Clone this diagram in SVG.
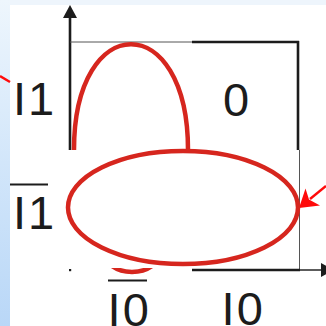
<svg xmlns="http://www.w3.org/2000/svg" width="326" height="326" viewBox="0 0 326 326">
  <defs>
    <linearGradient id="side" x1="0" y1="0" x2="0" y2="1">
      <stop offset="0" stop-color="#eef6fd"/>
      <stop offset="0.5" stop-color="#d2e6fa"/>
      <stop offset="1" stop-color="#b9d7f7"/>
    </linearGradient>
    <clipPath id="lowClip"><rect x="0" y="268" width="326" height="58"/></clipPath>
    <style>
      .lbl { font-family: "Liberation Sans", Arial, sans-serif; font-size: 47px; fill: #1c1c1c; letter-spacing: 2px; }
      .axis { stroke: #1c1c1c; stroke-width: 2.6; fill: none; }
      .thin { stroke: #555; stroke-width: 1; fill: none; }
      .loop { stroke: #d6261e; stroke-width: 4.5; fill: none; }
      .bar { stroke: #1c1c1c; stroke-width: 2; }
      .pointer { stroke: #ff0a0a; stroke-width: 2.4; fill: none; }
    </style>
  </defs>

  <!-- background -->
  <rect x="0" y="0" width="326" height="326" fill="#ffffff"/>
  <rect x="0" y="0" width="326" height="5" fill="#eef5fc"/>
  <rect x="0" y="0" width="10" height="326" fill="url(#side)"/>

  <g id="connectors">
    <!-- y axis -->
    <line class="axis" x1="70" y1="15" x2="70" y2="150"/>
    <polygon points="70,5 63,18 77,18" fill="#1c1c1c"/>
    <!-- box top -->
    <line class="thin" x1="70" y1="42" x2="192" y2="42"/>
    <line class="axis" x1="192" y1="42" x2="299" y2="42"/>
    <line class="axis" x1="298" y1="41" x2="298" y2="150"/>
    <line class="thin" x1="299.5" y1="150" x2="299.5" y2="270"/>
    <!-- x axis -->
    <line class="axis" x1="192" y1="270" x2="300" y2="270"/>
    <line x1="300" y1="270" x2="322" y2="270" stroke="#333" stroke-width="1.6"/>
    <polygon points="334,270 321,263 321,277" fill="#1c1c1c"/>
    <rect x="69" y="269" width="2.2" height="2.2" fill="#1c1c1c"/>
    <!-- red pointers -->
    <line class="pointer" x1="0" y1="76" x2="10" y2="82"/>
    <line class="pointer" x1="326" y1="186" x2="310" y2="199"/>
    <polygon points="299,208 305.5,188.5 309,199.5 320,205.5" fill="#ff0a0a"/>
  </g>

  <g id="loop-top">
    <path class="loop" d="M74,150 C74,9 188,9 188,150"/>
  </g>

  <g id="loop-bottom">
    <ellipse class="loop" cx="183" cy="207.5" rx="115" ry="56.5"/>
  </g>

  <g id="loop-fragment" clip-path="url(#lowClip)">
    <ellipse class="loop" cx="132" cy="252" rx="28" ry="20"/>
  </g>

  <g id="label-I1">
    <text class="lbl" x="12.9" y="115">I1</text>
  </g>
  <g id="cell-0">
    <text class="lbl" x="223" y="115.5">0</text>
  </g>
  <g id="label-not-I1">
    <line class="bar" x1="10" y1="184.5" x2="48" y2="184.5"/>
    <text class="lbl" x="12.9" y="228.5">I1</text>
  </g>
  <g id="label-not-I0">
    <line class="bar" x1="108" y1="280.5" x2="147" y2="280.5"/>
    <text class="lbl" x="107.6" y="326">I0</text>
  </g>
  <g id="label-I0">
    <text class="lbl" x="221.6" y="325">I0</text>
  </g>
</svg>
